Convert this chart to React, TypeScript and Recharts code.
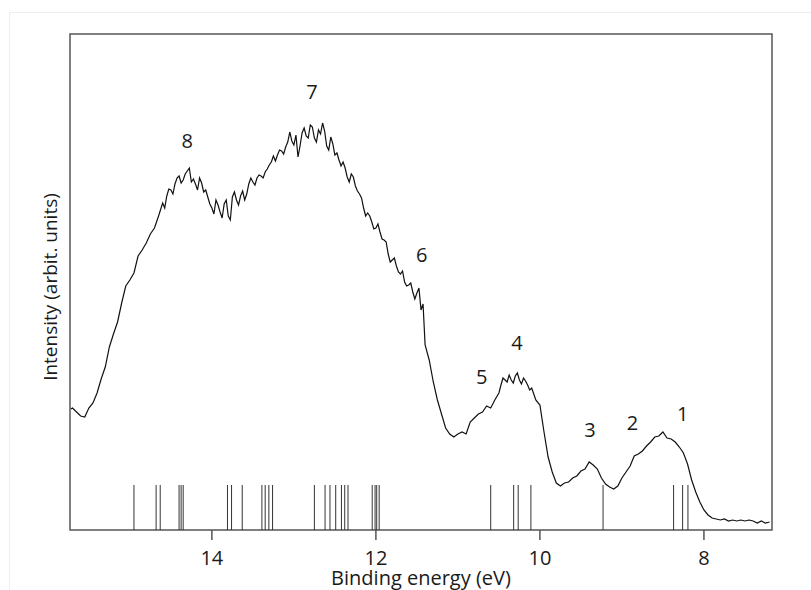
import React from 'react';
import {
  ComposedChart,
  Line,
  XAxis,
  YAxis,
  ReferenceLine,
  ReferenceArea,
  Scatter,
  Customized,
} from 'recharts';

// Binding energy (eV) of each spectrum sample, left to right
const energies = [
  15.72, 15.70, 15.65, 15.60, 15.55, 15.50, 15.45, 15.40, 15.35, 15.30, 15.25, 15.20, 15.15, 15.10, 15.05,
  15.00, 14.95, 14.90, 14.85, 14.80, 14.75, 14.70, 14.65, 14.60, 14.575, 14.55, 14.525, 14.50, 14.475,
  14.45, 14.425, 14.40, 14.375, 14.35, 14.325, 14.30, 14.275, 14.25, 14.225, 14.20, 14.175, 14.15, 14.125,
  14.10, 14.075, 14.05, 14.025, 14.00, 13.975, 13.95, 13.925, 13.90, 13.875, 13.85, 13.825, 13.80, 13.775,
  13.75, 13.725, 13.70, 13.675, 13.65, 13.625, 13.60, 13.575, 13.55, 13.525, 13.50, 13.475, 13.45, 13.425,
  13.40, 13.375, 13.35, 13.325, 13.30, 13.275, 13.25, 13.225, 13.20, 13.175, 13.15, 13.125, 13.10, 13.075,
  13.05, 13.025, 13.00, 12.975, 12.95, 12.925, 12.90, 12.875, 12.85, 12.825, 12.80, 12.775, 12.75, 12.725,
  12.70, 12.675, 12.65, 12.625, 12.60, 12.575, 12.55, 12.525, 12.50, 12.475, 12.45, 12.425, 12.40, 12.375,
  12.35, 12.325, 12.30, 12.275, 12.25, 12.225, 12.20, 12.175, 12.15, 12.125, 12.10, 12.075, 12.05, 12.025,
  12.00, 11.975, 11.95, 11.925, 11.90, 11.875, 11.85, 11.825, 11.80, 11.775, 11.75, 11.725, 11.70, 11.675,
  11.65, 11.625, 11.60, 11.575, 11.55, 11.525, 11.50, 11.475, 11.45, 11.425, 11.40, 11.35, 11.30, 11.25,
  11.20, 11.15, 11.10, 11.05, 11.00, 10.95, 10.90, 10.85, 10.80, 10.75, 10.70, 10.65, 10.60, 10.55, 10.50,
  10.475, 10.45, 10.425, 10.40, 10.375, 10.35, 10.325, 10.30, 10.275, 10.25, 10.225, 10.20, 10.175, 10.15,
  10.125, 10.10, 10.05, 10.00, 9.95, 9.90, 9.85, 9.80, 9.75, 9.70, 9.65, 9.60, 9.55, 9.50, 9.45, 9.40,
  9.35, 9.30, 9.25, 9.20, 9.15, 9.10, 9.05, 9.00, 8.95, 8.90, 8.85, 8.80, 8.75, 8.70, 8.65, 8.60, 8.55,
  8.50, 8.45, 8.40, 8.35, 8.30, 8.25, 8.20, 8.15, 8.10, 8.05, 8.00, 7.95, 7.90, 7.85, 7.80, 7.75, 7.70,
  7.65, 7.60, 7.55, 7.50, 7.45, 7.40, 7.35, 7.30, 7.25, 7.20,
];

// Intensity (arbitrary units) for each energy above
const intensities = [
  121, 122, 118, 114, 113, 122, 127, 137, 151, 163, 183, 196, 208, 227, 244,
  250, 257, 274, 280, 287, 296, 302, 314, 327, 322, 334, 341, 340, 336,
  346, 352, 354, 347, 350, 356, 359, 362, 348, 351, 346, 340, 352, 347,
  338, 340, 333, 326, 322, 316, 330, 325, 318, 312, 326, 330, 314, 310,
  333, 338, 330, 325, 334, 339, 330, 336, 346, 352, 348, 345, 352, 355,
  354, 352, 358, 361, 365, 368, 374, 369, 375, 380, 379, 376, 383, 388,
  398, 389, 385, 395, 373, 384, 397, 402, 394, 392, 405, 403, 392, 388,
  400, 396, 407, 399, 384, 380, 393, 386, 375, 377, 370, 364, 368, 362,
  353, 348, 356, 353, 344, 339, 336, 332, 322, 314, 317, 314, 308, 301,
  302, 306, 298, 291, 290, 288, 276, 268, 270, 272, 264, 258, 256, 259,
  248, 244, 245, 247, 238, 231, 237, 242, 220, 226, 185, 170, 148, 130,
  116, 102, 96, 93, 96, 98, 96, 108, 112, 116, 118, 124, 122, 130, 137,
  145, 152, 150, 148, 155, 150, 147, 154, 157, 150, 146, 152, 149, 145,
  140, 142, 130, 125, 98, 73, 58, 47, 44, 47, 48, 52, 54, 59, 61, 68,
  65, 61, 52, 46, 43, 41, 44, 52, 58, 64, 74, 76, 79, 84, 88, 93, 94,
  98, 92, 91, 88, 83, 77, 66, 50, 38, 28, 20, 15, 12, 11, 10, 11, 9,
  10, 9, 10, 9, 10, 9, 7, 9, 7, 8,
];

// Calculated ionisation energies shown as sticks (eV)
const stickEnergies = [
  14.95, 14.68, 14.63, 14.4, 14.375, 14.35, 13.81, 13.76, 13.63, 13.39, 13.35, 13.305, 13.26,
  12.75, 12.62, 12.56, 12.49, 12.42, 12.38, 12.34, 12.045, 12.01, 11.99, 11.96,
  10.6, 10.32, 10.265, 10.11, 9.23, 8.37, 8.26, 8.195,
];
const stickHeight = 45;

// Peak labels
const peakNames = ['8', '7', '6', '5', '4', '3', '2', '1'];
const peakLabelEnergies = [14.3, 12.78, 11.44, 10.71, 10.28, 9.39, 8.87, 8.26];
const peakLabelHeights = [389, 438, 275, 153, 187, 100, 107, 116];

const xTicks = [14, 12, 10, 8];
const xDomain = [7.17, 15.73];
const yDomain = [0, 496];

const FONT = "'Open Sans', sans-serif";
const TEXT = '#1a1a1a';

const spectrum = energies.map((e, k) => ({ e, i: intensities[k] }));
const peaks = peakNames.map((name, k) => ({ e: peakLabelEnergies[k], i: peakLabelHeights[k], name }));

const PeakText = (props: any) => {
  const { cx, cy, payload } = props;
  return (
    <text x={cx} y={cy + 7} textAnchor="middle" fontSize={20} fontFamily={FONT} fill={TEXT}>
      {payload.name}
    </text>
  );
};

const Titles = () => (
  <g>
    <text x={421} y={585} textAnchor="middle" fontSize={20} fontFamily={FONT} fill={TEXT}>
      Binding energy (eV)
    </text>
    <text
      x={56.5}
      y={287}
      transform="rotate(-90 56.5 287)"
      textAnchor="middle"
      fontSize={19}
      fontFamily={FONT}
      fill={TEXT}
    >
      Intensity (arbit. units)
    </text>
  </g>
);

export default function App() {
  return (
    <div style={{ position: 'absolute', left: 0, top: 0, width: 811, height: 590, background: '#fff' }}>
      <div
        style={{
          position: 'absolute',
          left: 9,
          top: 12,
          width: 820,
          height: 600,
          border: '1px solid #eeeeee',
          boxSizing: 'border-box',
        }}
      />
      <div style={{ position: 'absolute', left: 0, top: 0 }}>
        <ComposedChart width={811} height={590} margin={{ top: 34, right: 39, bottom: 0, left: 70 }}>
          <XAxis
            type="number"
            dataKey="e"
            domain={xDomain}
            reversed
            ticks={xTicks}
            allowDataOverflow
            axisLine={false}
            tickSize={10}
            tickMargin={11}
            height={60}
            tickLine={{ stroke: '#555', strokeWidth: 1.5 }}
            tick={{ fontSize: 20, fontFamily: FONT, fill: TEXT }}
          />
          <YAxis type="number" dataKey="i" domain={yDomain} hide allowDataOverflow />
          {stickEnergies.map((e, k) => (
            <ReferenceLine
              key={k}
              segment={[
                { x: e, y: 0 },
                { x: e, y: stickHeight },
              ]}
              stroke="#333"
              strokeWidth={1}
            />
          ))}
          <Line
            data={spectrum}
            dataKey="i"
            type="linear"
            dot={false}
            stroke="#111"
            strokeWidth={1.2}
            isAnimationActive={false}
          />
          <Scatter data={peaks} dataKey="i" shape={PeakText} isAnimationActive={false} />
          <ReferenceArea
            x1={xDomain[1]}
            x2={xDomain[0]}
            y1={yDomain[0]}
            y2={yDomain[1]}
            fill="none"
            fillOpacity={0}
            stroke="#555"
            strokeWidth={1.5}
          />
          <Customized component={Titles} />
        </ComposedChart>
      </div>
    </div>
  );
}
